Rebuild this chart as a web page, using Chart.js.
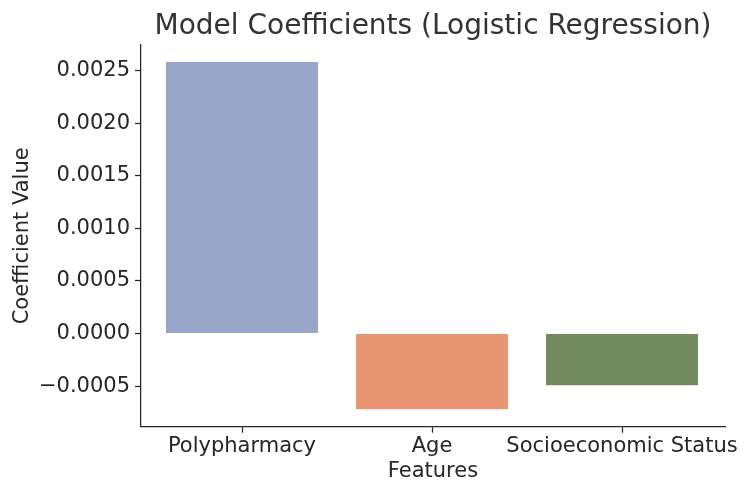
<!DOCTYPE html>
<html>
<head>
<meta charset="utf-8">
<script src="https://cdn.jsdelivr.net/npm/chart.js@4.4.1/dist/chart.umd.min.js"></script>
<style>
    html, body { margin: 0; padding: 0; background: #ffffff; }
    #wrap { width: 750px; height: 495px; }
</style>
</head>
<body>
<div id="wrap"><canvas id="coefChart" width="750" height="495"></canvas></div>
<script>
// Data
const features = ['Polypharmacy', 'Age', 'Socioeconomic Status'];
const coefficients = [0.00258, -0.00072, -0.00049];
const barColors = ['#97a6c7', '#e99674', '#748b5f'];
const yMin = -0.000885;
const yMax = 0.002742;
const yStep = 0.0005;

const textColor = '#262626';
const fontSize = 21;

Chart.defaults.font.family = "'DejaVu Sans', sans-serif";
Chart.defaults.font.size = fontSize;
Chart.defaults.color = textColor;

// matplotlib leaves a little margin between the spine ends and the outer bars
const xMarginPlugin = {
    id: 'xMargin',
    afterLayout(chart) {
        const x = chart.scales.x;
        x._startPixel = x.left + 6;
        x._endPixel = x.right - 8;
        x._length = x._endPixel - x._startPixel;
    }
};

new Chart(document.getElementById('coefChart'), {
    type: 'bar',
    data: {
        labels: features,
        datasets: [{
            data: coefficients,
            backgroundColor: barColors,
            borderWidth: 0,
            barPercentage: 0.8,
            categoryPercentage: 1.0
        }]
    },
    options: {
        responsive: false,
        animation: false,
        layout: { padding: { left: 0, right: 25, top: 0, bottom: 0 } },
        plugins: {
            legend: { display: false },
            tooltip: { enabled: false },
            title: {
                display: true,
                text: 'Model Coefficients (Logistic Regression)',
                fullSize: false,
                color: '#333333',
                font: { size: 28, weight: 'normal' },
                padding: { top: 10, bottom: 1.4 }
            }
        },
        scales: {
            x: {
                offset: true,
                grid: { display: true, offset: false, drawOnChartArea: false, drawTicks: true, tickLength: 6, tickColor: textColor, tickWidth: 1.25 },
                border: { display: true, color: textColor, width: 1.25 },
                ticks: { color: textColor, padding: 1, maxRotation: 0, autoSkip: false },
                title: { display: true, text: 'Features', color: textColor, padding: { top: 11, bottom: 11 } },
                afterFit(scale) { scale.height = 68.3; }
            },
            y: {
                min: yMin,
                max: yMax,
                grid: { display: true, drawOnChartArea: false, drawTicks: true, tickLength: 6, tickColor: textColor, tickWidth: 1.25 },
                border: { display: true, color: textColor, width: 1.25 },
                ticks: {
                    stepSize: yStep,
                    includeBounds: false,
                    color: textColor,
                    padding: 5,
                    callback: (v) => v.toFixed(4).replace('-', '\u2212')
                },
                title: { display: true, text: 'Coefficient Value', color: textColor, padding: { top: 10, bottom: 10 } },
                afterFit(scale) { scale.width = 141; }
            }
        }
    },
    plugins: [xMarginPlugin]
});
</script>
</body>
</html>
